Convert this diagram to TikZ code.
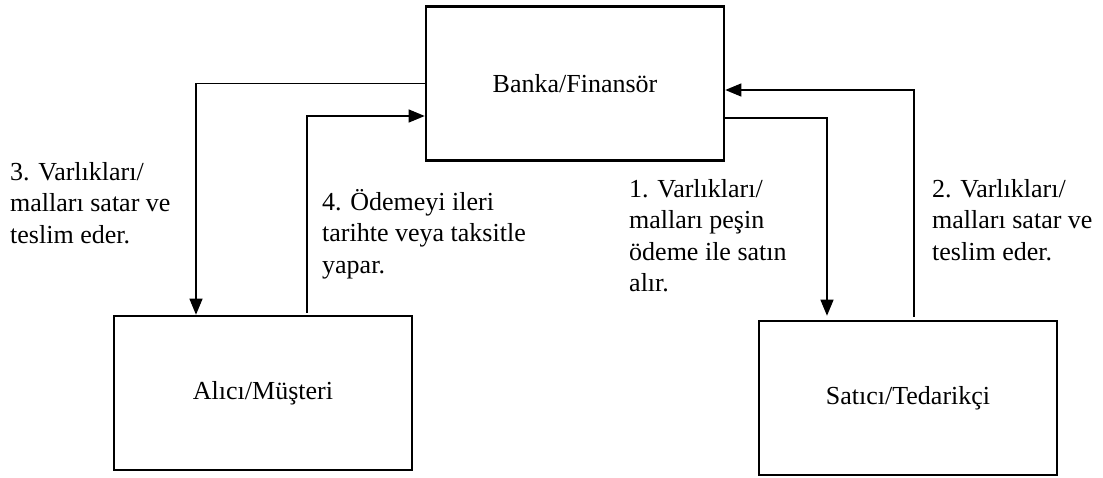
\documentclass[tikz,border=0pt]{standalone}
\usepackage{fontspec}
\setmainfont{Liberation Serif}
\usetikzlibrary{arrows.meta,calc}
\begin{document}
\begin{tikzpicture}[x=1pt,y=-1pt,
  box/.style={draw=black,line width=2.6pt,rectangle,minimum width=298pt,minimum height=154pt,inner sep=0pt,
    font=\fontsize{26}{31.5}\selectfont},
  conn/.style={draw=black,line width=1.2pt},
  tip/.style={-{Triangle[length=16pt,width=13pt]}},
  lbl/.style={anchor=north west,inner sep=0pt,align=left,font=\fontsize{26}{31.5}\selectfont}]
\useasboundingbox[fill=white] (0,0) rectangle (1103,478);
\node[box] (banka) at (575,83.5) {Banka/Finansör};
\node[box] (alici) at (263,393) {Alıcı/Müşteri};
\node[box] (satici) at (908,398) {Satıcı/Tedarikçi};
% 3
\draw[conn,tip] (banka.west) -| ([xshift=-67pt]alici.north);
% 4
\draw[conn,tip] ([xshift=44pt,yshift=2pt]alici.north) |- ([yshift=-32.5pt]banka.west);
% 1
\draw[conn,tip] ([yshift=-34.5pt]banka.east) -| ([xshift=-81pt,yshift=4pt]satici.north);
% 2
\draw[conn,tip] ([xshift=6pt,yshift=3pt]satici.north) |- ([yshift=-6.5pt]banka.east);
% labels
\node[lbl] (l3) at (10,158) {\strut 3. Varlıkları/\\malları satar ve\\teslim eder.};
\node[lbl] (l4) at (322,188) {\strut 4. Ödemeyi ileri\\tarihte veya taksitle\\yapar.};
\node[lbl] (l1) at (629,175) {\strut 1. Varlıkları/\\malları peşin\\ödeme ile satın\\alır.};
\node[lbl] (l2) at (932,175) {\strut 2. Varlıkları/\\malları satar ve\\teslim eder.};
\end{tikzpicture}
\end{document}
